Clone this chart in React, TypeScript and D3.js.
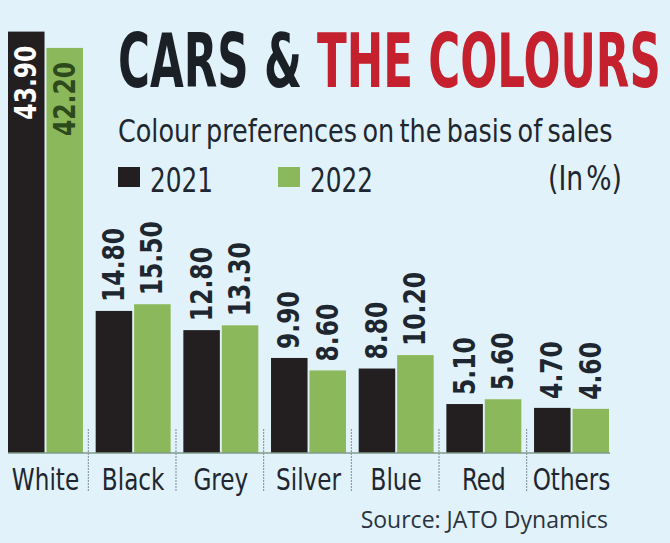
import * as d3 from 'd3';
import React from 'react';

const categories = ['White', 'Black', 'Grey', 'Silver', 'Blue', 'Red', 'Others'];
const years = ['2021', '2022'];
const values2021 = [43.9, 14.8, 12.8, 9.9, 8.8, 5.1, 4.7];
const values2022 = [42.2, 15.5, 13.3, 8.6, 10.2, 5.6, 4.6];

const W = 670;
const H = 543;
const baseY = 453;
// no narrow web font offline, so DejaVu condensed squeezed a bit more
const font = '"DejaVu Sans Condensed", "DejaVu Sans", sans-serif';
const ink = '#1e2630';
const barColors = { '2021': '#231f20', '2022': '#8cb85c' };

// text squeezed horizontally (along its own direction)
const Squeezed = ({ x, y, sx, rotate = 0, children, ...rest }: any) => (
  <text transform={`translate(${x},${y}) rotate(${rotate}) scale(${sx},1)`} fontFamily={font} {...rest}>
    {children}
  </text>
);

const App = () => {
  const x0 = d3.scaleBand().domain(categories).range([8, 609]).paddingInner(0.145).paddingOuter(0);
  const x1 = d3.scaleBand().domain(years).range([0, x0.bandwidth()]).paddingInner(0.05);
  const y = d3.scaleLinear().domain([0, 43.9]).range([baseY, 31.6]);

  const rows = categories.map((c, i) => ({
    cat: c,
    bars: [
      { year: '2021', v: values2021[i] },
      { year: '2022', v: values2022[i] },
    ],
  }));

  return (
    <svg width={W} height={H} style={{ position: 'absolute', left: 0, top: 0, background: '#e1f2fa' }}>
      <rect width={W} height={H} fill="#e1f2fa" />

      {/* title */}
      <Squeezed x={118} y={87} sx={0.655} fontWeight="bold" fontSize={74} fill="#1b2027">
        CARS &amp; <tspan fill="#c5202e">THE COLOURS</tspan>
      </Squeezed>
      <Squeezed x={118} y={142} sx={0.885} fontSize={32} fill={ink} wordSpacing={-3}>
        Colour preferences on the basis of sales
      </Squeezed>

      {/* legend */}
      {years.map((yr, i) => (
        <g key={yr}>
          <rect x={118 + i * 160} y={167} width={22} height={20} fill={barColors[yr]} />
          <Squeezed x={150 + i * 160} y={192} sx={0.81} fontSize={34} fill={ink}>{yr}</Squeezed>
        </g>
      ))}
      <Squeezed x={622} y={190} sx={0.87} textAnchor="end" fontSize={34} fill={ink} wordSpacing={-6}>(In %)</Squeezed>

      {/* bars */}
      {rows.map((r, gi) => (
        <g key={r.cat} transform={`translate(${x0(r.cat)},0)`}>
          {r.bars.map((b) => {
            const bx = x1(b.year)!;
            const top = y(b.v);
            const cx = bx + x1.bandwidth() / 2 + 10;
            const inside = gi === 0;
            const ly = inside ? top + 14 : top - 9;
            return (
              <g key={b.year}>
                <rect x={bx} y={top} width={x1.bandwidth()} height={baseY - top} fill={barColors[b.year]} />
                <Squeezed x={cx} y={ly} rotate={-90} sx={0.84} textAnchor={inside ? 'end' : 'start'}
                  fontWeight="bold" fontSize={31}
                  fill={inside ? (b.year === '2021' ? '#ffffff' : '#2d4a1c') : ink}>
                  {b.v.toFixed(2)}
                </Squeezed>
              </g>
            );
          })}
          <Squeezed x={x0.bandwidth() / 2} y={490} sx={0.83} textAnchor="middle" fontSize={31} fill={ink}>
            {r.cat}
          </Squeezed>
        </g>
      ))}

      {/* separators */}
      {categories.slice(1).map((c) => {
        const sx = x0(c)! - (x0.step() - x0.bandwidth()) / 2 - 1;
        return <line key={c} x1={sx} x2={sx} y1={429} y2={492} stroke="#7d8c96" strokeWidth={1} strokeDasharray="2 1" />;
      })}
      <line x1={8} x2={610} y1={baseY} y2={baseY} stroke="#7f9a88" strokeWidth={1.5} />

      <text x={608} y={528} textAnchor="end" fontFamily='"Open Sans", "DejaVu Sans", sans-serif' fontSize={23} fill="#2a3340">
        Source: JATO Dynamics
      </text>
    </svg>
  );
};

export default App;
